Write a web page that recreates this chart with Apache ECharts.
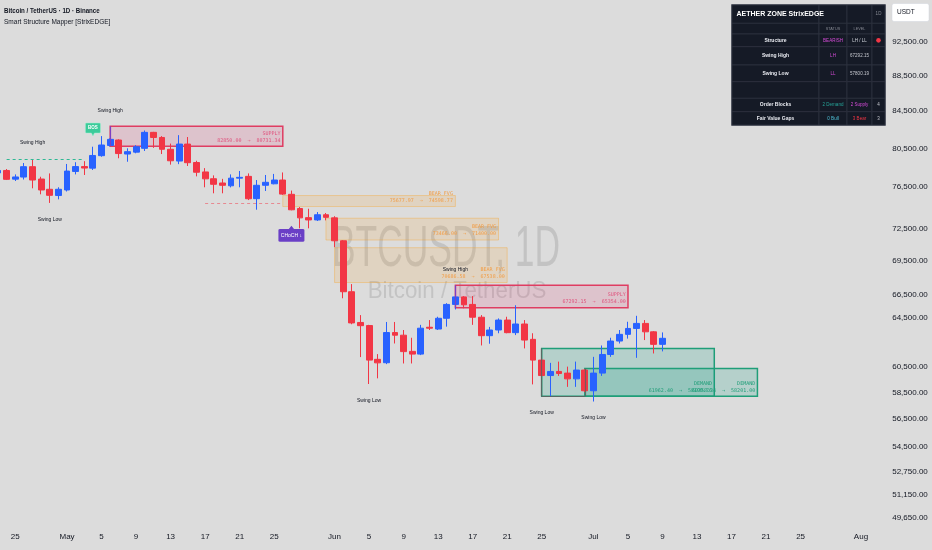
<!DOCTYPE html>
<html><head><meta charset="utf-8">
<script src="https://cdn.jsdelivr.net/npm/echarts@6/dist/echarts.min.js"></script>
<style>html,body{margin:0;padding:0;background:#dcdcdc;}#c{width:932px;height:550px;}</style>
</head><body><div id="c"></div>
<script>
// ---------- categories (daily) ----------
const MONTHS = ['Jan','Feb','Mar','Apr','May','Jun','Jul','Aug','Sep','Oct','Nov','Dec'];
const categories = [];
for (let i = 0; i < 101; i++) { const d = new Date(Date.UTC(2025, 3, 23 + i)); categories.push(MONTHS[d.getUTCMonth()] + ' ' + d.getUTCDate()); }
const labelDays = [1, 5, 9, 13, 17, 21, 25];

// ---------- OHLC (Apr 23 .. Jul 9) ----------
const opens = [
77950,78200,77320,77530,78590,77330,76300,75680,
76230,78100,78600,78440,79730,80800,81380,79900,80100,80500,
82200,81650,80400,79170,80950,79020,78050,77360,76930,76650,
77420,77600,75370,76700,76850,77230,75800,74400,73520,73300,73800,
73500,71330,66730,64100,63840,61080,60810,63260,63040,61720,
61500,63700,63550,64450,65630,66280,65630,64540,63000,63470,
64300,63250,63970,62700,61020,59800,60120,59990,59540,60230,
58620,59990,61470,62560,63110,63600,64020,63320,62290];
const highs = [
78400,78350,77800,78970,79360,77560,77900,76500,
78870,79050,79160,80670,81800,81550,81450,80500,80830,82400,
82250,81800,81000,81900,81700,79200,78440,77700,77350,77800,
78150,77900,77230,77740,77850,78000,76170,74550,74380,74060,73970,
73660,71400,67400,64720,63900,61500,64140,64140,63470,62830,
63900,64300,64580,65740,66700,66350,66350,64720,63730,64440,
64580,65560,64300,63200,61200,60800,60900,60500,60900,60300,
61280,62200,62830,63470,64160,64660,64300,63380,63270];
const lows = [
77850,77230,77130,77280,76400,75800,74950,75300,
76080,77800,77740,78250,79620,80700,79460,79100,79980,80220,
80550,79900,78800,78850,78660,77600,76500,75900,75900,76490,
76500,75230,74290,76130,76800,75740,74230,72500,72500,73200,73260,
70730,66160,63950,61260,59140,59580,60700,62360,60750,60750,
61420,63470,63470,63750,65200,65300,63900,62200,62340,63200,
63200,63050,61960,59110,59650,58170,59770,58920,58920,58520,
57800.19,59770,61280,62360,62760,61200,62640,61550,61720];
const closes = [
78200,77300,77540,78590,77230,76230,75700,76300,
78140,78600,78450,79750,80850,81450,79950,80150,80670,82200,
81650,80400,79200,80950,79000,78020,77350,76800,76700,77420,
77500,75360,76700,77000,77230,75820,74280,73500,73300,73800,73550,
71330,66730,64060,63830,61020,60800,63260,63040,61700,61500,
63620,63620,64450,65630,66280,65600,64540,63000,63470,64300,
63250,63970,62640,61020,59800,60120,59960,59540,60230,58620,
59990,61470,62560,63110,63600,64020,63320,62290,62784.98];

// ---------- price axis ----------
const priceTicks = [92500,88500,84500,80500,76500,72500,69500,66500,64500,60500,58500,56500,54500,52750,51150,49650];
const priceTop = 97740, priceBottom = 49050;

// ---------- zones ----------
const zoneKinds  = ['SUPPLY','SUPPLY','BEAR FVG','BEAR FVG','BEAR FVG','DEMAND','DEMAND'];
const zoneStart  = ['May 6','Jun 15','May 26','May 31','Jun 1','Jun 25','Jun 30'];
const zoneEnd    = ['May 26','Jul 5','Jun 15','Jun 20','Jun 21','Jul 15','Jul 20'];
const zoneTop    = [82850.00,67292.15,75677.97,73466.00,70686.58,61962.40,60358.34];
const zoneBottom = [80731.34,65354.00,74598.77,71400.00,67538.00,58199.76,58201.00];

// ---------- swing labels ----------
const swingText  = ['Swing High','Swing High','Swing Low','Swing Low','Swing High','Swing Low','Swing Low'];
const swingDate  = ['Apr 27','May 6','Apr 29','Jun 5','Jun 15','Jun 25','Jul 1'];
const swingLevel = [81060,84527,73290,57870,68700,56940,56560];

// ---------- structure tags ----------
const tagText  = ['BOS','CHoCH ↓'];
const tagDate  = ['May 4','May 27'];
const tagLevel = [82505,71979];

// ---------- dashed levels ----------
const levelFrom  = ['Apr 24','May 17'];
const levelTo    = ['May 3','May 26'];
const levelPrice = [79360,74920];

// ---------- table ----------
const tableTitle = 'AETHER ZONE StrixEDGE';
const tableTf = '1D';
const tableHeads = ['STATUS','LEVEL'];
const tableLabels = ['Structure','Swing High','Swing Low','','Order Blocks','Fair Value Gaps'];
const tableStatus = ['BEARISH','LH','LL','','2 Demand','0 Bull'];
const tableLevels = ['LH / LL','67292.15','57800.19','','2 Supply','3 Bear'];
const tableCounts = ['','','','','4','3'];

const titleLine1 = 'Bitcoin / TetherUS · 1D · Binance';
const titleLine2 = 'Smart Structure Mapper [StrixEDGE]';
const wmMain = 'BTCUSDT, 1D';
const wmSub = 'Bitcoin / TetherUS';
const currency = 'USDT';

// =====================================================
const L = Math.log;
const FONT = "'Liberation Sans', Arial, sans-serif";
const MONO = "'DejaVu Sans Mono', 'Liberation Mono', monospace";
const fmtPrice = v => v.toLocaleString('en-US', {minimumFractionDigits: 2, maximumFractionDigits: 2});
const lastClose = closes[closes.length - 1];

const candleData = opens.map((o, i) => [L(o), L(closes[i]), L(lows[i]), L(highs[i])]);

const zoneStyle = {
  'SUPPLY':   {fill: 'rgba(233,30,99,0.13)', border: '#df3d62', bw: 1.5, text: '#e0517c', edge: '#7b3fc4'},
  'BEAR FVG': {fill: 'rgba(255,152,0,0.12)', border: 'rgba(255,152,0,0.30)', bw: 1, text: '#f29d45', edge: null},
  'DEMAND':   {fill: 'rgba(8,153,129,0.18)', border: '#1f9e78', bw: 1.5, text: '#1f9e78', edge: 'rgba(95,95,95,0.85)'}
};
const areaData = zoneKinds.map((k, i) => {
  const s = zoneStyle[k];
  return [{
    xAxis: zoneStart[i], yAxis: L(zoneTop[i]),
    itemStyle: {color: s.fill, borderColor: s.border, borderWidth: s.bw},
    label: {show: true, position: 'insideBottomRight', distance: 3,
      formatter: k + '\n' + zoneTop[i].toFixed(2) + '  →  ' + zoneBottom[i].toFixed(2),
      color: s.text, fontSize: 5, lineHeight: 7, fontFamily: MONO}
  }, {xAxis: zoneEnd[i], yAxis: L(zoneBottom[i])}];
});

const pointData = swingText.map((t, i) => ({
  coord: [swingDate[i], L(swingLevel[i])], symbol: 'rect', symbolSize: 1,
  itemStyle: {color: 'rgba(0,0,0,0)'},
  label: {show: true, position: 'inside', formatter: t, color: '#131722', fontSize: 5, fontFamily: FONT}
}));
pointData.push({
  coord: [tagDate[0], L(tagLevel[0])],
  symbol: 'path://M2,0 H28 Q30,0 30,2 V18 Q30,20 28,20 H18 L15,26 L12,20 H2 Q0,20 0,18 V2 Q0,0 2,0 Z',
  symbolSize: [15, 13], itemStyle: {color: '#3ccb9a', borderColor: '#9ff0d2', borderWidth: 0.5},
  label: {show: true, position: 'inside', offset: [0, -1.5], formatter: tagText[0], color: '#fff', fontSize: 4.5, fontWeight: 'bold', fontFamily: FONT}
});
pointData.push({
  coord: [tagDate[1], L(tagLevel[1])],
  symbol: 'path://M2,6 H12 L15,0 L18,6 H28 Q30,6 30,8 V28 Q30,30 28,30 H2 Q0,30 0,28 V8 Q0,6 2,6 Z',
  symbolSize: [26, 16], itemStyle: {color: '#6a3fc6'},
  label: {show: true, position: 'inside', offset: [0, 1.6], formatter: tagText[1], color: '#fff', fontSize: 5, fontFamily: FONT}
});

const lineData = [];
const levelColors = ['#2fb894', 'rgba(242,54,69,0.5)'];
levelPrice.forEach((p, i) => {
  const ls = {color: levelColors[i], type: [3, 3], width: 1.2, opacity: 1};
  lineData.push([
    {coord: [levelFrom[i], L(p)], lineStyle: ls, label: {show: false}},
    {coord: [levelTo[i], L(p)], lineStyle: ls}
  ]);
});
// left edges of supply / demand boxes
zoneKinds.forEach((k, i) => {
  const e = zoneStyle[k].edge;
  if (!e) return;
  const ls = {color: e, type: 'solid', width: 1.2, opacity: 1};
  lineData.push([
    {coord: [zoneStart[i], L(zoneTop[i])], lineStyle: ls, label: {show: false}},
    {coord: [zoneStart[i], L(zoneBottom[i])], lineStyle: ls}
  ]);
});
const dls = {color: zoneStyle.DEMAND.edge, type: 'solid', width: 1.2, opacity: 1};
lineData.push([
  {coord: [zoneStart[5], L(zoneBottom[5])], lineStyle: dls, label: {show: false}},
  {coord: [zoneStart[6], L(zoneBottom[5])], lineStyle: dls}
]);
lineData.push({
  yAxis: L(lastClose), lineStyle: {opacity: 0},
  label: {show: true, position: 'end', distance: 24, formatter: fmtPrice(lastClose),
    backgroundColor: '#2962ff', color: '#fff', padding: [2, 3], fontSize: 8, fontFamily: FONT}
});

// ---------- graphics ----------
const g = [];
g.push({type: 'text', x: 446, y: 250, scaleX: 0.61, z: 0, silent: true,
  style: {text: wmMain, font: '58px "Liberation Sans"', fill: 'rgba(70,70,70,0.16)', align: 'center', verticalAlign: 'middle'}});
g.push({type: 'text', x: 457, y: 291, scaleX: 0.93, z: 0, silent: true,
  style: {text: wmSub, font: '24px "Liberation Sans"', fill: 'rgba(70,70,70,0.16)', align: 'center', verticalAlign: 'middle'}});
g.push({type: 'text', x: 4, y: 10.7, scaleX: 0.88, z: 50,
  style: {text: titleLine1, font: 'bold 7px "Liberation Sans"', fill: '#131722', verticalAlign: 'middle'}});
g.push({type: 'text', x: 4, y: 21.6, scaleX: 0.93, z: 50,
  style: {text: titleLine2, font: '7px "Liberation Sans"', fill: '#131722', verticalAlign: 'middle'}});
// currency box
g.push({type: 'rect', z: 50, shape: {x: 892, y: 3.5, width: 37, height: 18, r: 2}, style: {fill: '#ffffff', stroke: '#d1d4dc', lineWidth: 0.5}});
g.push({type: 'text', z: 51, x: 897, y: 12.6, style: {text: currency, font: '6.5px "Liberation Sans"', fill: '#131722', verticalAlign: 'middle'}});
// table
const colX = [732, 819, 847, 872, 885];
const rowY = [5, 23.3, 34, 46.7, 65, 81.7, 98.3, 111.7, 125];
g.push({type: 'rect', z: 60, shape: {x: colX[0] - 0.5, y: rowY[0] - 0.5, width: colX[4] - colX[0] + 1, height: rowY[8] - rowY[0] + 1}, style: {fill: '#131722', stroke: '#6b6e78', lineWidth: 1}});
for (let r = 0; r < 8; r++) {
  for (let c = 0; c < 4; c++) {
    g.push({type: 'rect', z: 61, shape: {x: colX[c], y: rowY[r], width: colX[c + 1] - colX[c], height: rowY[r + 1] - rowY[r]},
      style: {fill: '#151a26', stroke: '#2e3240', lineWidth: 0.8}});
  }
}
const cx = c => (colX[c] + colX[c + 1]) / 2;
const cy = r => (rowY[r] + rowY[r + 1]) / 2;
const tTxt = (text, x, y, size, fill, opts) => g.push({type: 'text', z: 62, x: x, y: y,
  style: {text: text, font: (opts && opts.bold ? 'bold ' : '') + size + 'px "Liberation Sans"', fill: fill, align: (opts && opts.align) || 'center', verticalAlign: 'middle'}});
tTxt(tableTitle, 736.5, cy(0), 7, '#ffffff', {bold: true, align: 'left'});
tTxt(tableTf, cx(3), cy(0), 4.5, '#868993');
tTxt(tableHeads[0], cx(1), cy(1), 3.8, '#868993');
tTxt(tableHeads[1], cx(2), cy(1), 3.8, '#868993');
const statusColors = ['#d64bd9', '#d64bd9', '#d64bd9', '#fff', '#26a69a', '#4fc3d9'];
const levelColorsT = ['#d1d4dc', '#c7c9d0', '#c7c9d0', '#fff', '#d64bd9', '#f23645'];
tableLabels.forEach((lab, i) => {
  const r = i + 2;
  if (lab) tTxt(lab, cx(0), cy(r), 5, '#e8eaf0', {bold: true});
  if (tableStatus[i]) tTxt(tableStatus[i], cx(1), cy(r), 4.5, statusColors[i]);
  if (tableLevels[i]) tTxt(tableLevels[i], cx(2), cy(r), 4.5, levelColorsT[i]);
  if (tableCounts[i]) tTxt(tableCounts[i], cx(3), cy(r), 4.5, '#c7c9d0');
});
g.push({type: 'circle', z: 63, shape: {cx: cx(3), cy: cy(2), r: 2.3}, style: {fill: '#f23645'}});

// ---------- chart ----------
const chart = echarts.init(document.getElementById('c'), null, {renderer: 'canvas'});
chart.setOption({
  animation: false,
  backgroundColor: '#dcdcdc',
  grid: {left: 2.33, right: 66.7, top: 0, bottom: 23, containLabel: false},
  xAxis: {
    type: 'category', data: categories, boundaryGap: true, min: 1,
    axisLine: {show: false}, axisTick: {show: false}, splitLine: {show: false},
    axisLabel: {
      interval: (idx, val) => labelDays.indexOf(+String(val).split(' ')[1]) >= 0,
      formatter: v => { const p = v.split(' '); return p[1] === '1' ? p[0] : p[1]; },
      fontSize: 8, color: '#131722', margin: 6, fontFamily: FONT
    }
  },
  yAxis: {
    type: 'value', position: 'right', min: L(priceBottom), max: L(priceTop), scale: true,
    axisLine: {show: false}, axisTick: {show: false}, splitLine: {show: false},
    axisLabel: {customValues: priceTicks.map(L), formatter: v => fmtPrice(Math.exp(v)),
      align: 'right', margin: 62.5, fontSize: 8, color: '#131722', fontFamily: FONT}
  },
  graphic: g,
  series: [{
    type: 'candlestick', data: candleData, barWidth: '74%', clip: false,
    itemStyle: {color: '#2962ff', color0: '#f23645', borderColor: '#2962ff', borderColor0: '#f23645', borderWidth: 1},
    markArea: {silent: true, data: areaData},
    markPoint: {silent: true, data: pointData},
    markLine: {silent: true, symbol: ['none', 'none'], label: {show: false}, data: lineData}
  }]
});
</script></body></html>
